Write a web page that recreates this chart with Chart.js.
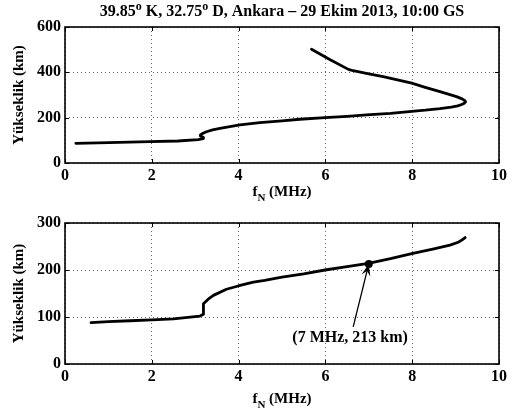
<!DOCTYPE html>
<html>
<head>
<meta charset="utf-8">
<script src="https://cdn.jsdelivr.net/npm/chart.js@4"></script>
<style>
html,body{margin:0;padding:0;background:#fff;}
#wrap{position:relative;width:515px;height:415px;}
#c1{position:absolute;left:0;top:0;}
#c2{position:absolute;left:0;top:207px;}
</style>
</head>
<body>
<div id="wrap">
<canvas id="c1" width="515" height="207"></canvas>
<canvas id="c2" width="515" height="208"></canvas>
</div>
<script>
// ---- data ----
const titleText = ["39.85", "o", " K, 32.75", "o", " D, Ankara \u2013 29 Ekim 2013, 10:00 GS"];
const yLabel = "Yükseklik (km)";
const xLabelMain = "f";
const xLabelSub = "N";
const xLabelRest = " (MHz)";

// top panel: full profile (bottomside + topside)
const topF = [0.25, 1.0, 1.96, 2.6, 3.07, 3.18, 3.19, 3.13, 3.12, 3.18, 3.26, 3.4, 3.57, 3.8, 4.03, 4.49, 5.0, 5.41, 5.99, 6.5, 6.95, 7.5, 7.99, 8.3, 8.64, 8.9, 9.05, 9.14, 9.2, 9.23, 9.21, 9.15, 9.02, 8.85, 8.64, 8.3, 7.99, 7.66, 7.33, 7.0, 6.64, 6.53, 6.1, 5.68];
const topH = [87, 90, 94, 97, 103, 108, 113, 119, 124, 131, 138, 146, 153, 161, 168, 178, 186, 193, 200, 206, 212, 219, 228, 233, 240, 247, 252, 258, 264, 270, 276, 283, 293, 303, 315, 334, 352, 367, 381, 393, 407, 413, 457, 502];

// bottom panel: bottomside profile only
const botF = [0.6, 1.0, 1.5, 2.0, 2.5, 3.11, 3.19, 3.19, 3.3, 3.42, 3.72, 3.99, 4.34, 4.6, 5.0, 5.5, 5.99, 6.5, 6.99, 7.5, 7.99, 8.5, 8.87, 9.06, 9.15, 9.22];
const botH = [88, 90, 92, 94, 96, 102, 106, 128, 138, 146, 159, 166, 174, 178, 185, 192, 200, 207, 214, 224, 235, 245, 253, 259, 264, 269];

const markF = 7, markH = 213;
const markLabel = "(7 MHz, 213 km)";
const arrowTailF = 6.64, arrowTailH = 79;
const labelF = 6.57, labelH = 55;

const xTicks = [0, 2, 4, 6, 8, 10];
const yTicksTop = [0, 200, 400, 600];
const yTicksBot = [0, 100, 200, 300];

// ---- helpers ----
const SERIF = '"Liberation Serif","Times New Roman",serif';
function bold(px){ return 'bold ' + px + 'px ' + SERIF; }

function drawRich(ctx, segs, cx, cy, size){
  const small = Math.round(size*0.72);
  let w = 0;
  segs.forEach(s => { ctx.font = bold(s[1]==='n'?size:small); w += ctx.measureText(s[0]).width; });
  let x = cx - w/2;
  ctx.textBaseline = 'alphabetic';
  ctx.textAlign = 'left';
  segs.forEach(s => {
    const f = s[1]==='n'?size:small;
    ctx.font = bold(f);
    let dy = 0;
    if (s[1]==='sup') dy = -size*0.4;
    if (s[1]==='sub') dy = size*0.32;
    ctx.fillText(s[0], x, cy + dy);
    x += ctx.measureText(s[0]).width;
  });
}

const framePlugin = {
  id: 'frame',
  afterDatasetsDraw(chart, args, opts){
    const ctx = chart.ctx, a = chart.chartArea;
    const xs = chart.scales.x, ys = chart.scales.y;
    ctx.save();
    ctx.fillStyle = '#000';
    ctx.strokeStyle = '#000';
    ctx.lineWidth = 1;
    ctx.beginPath();
    xTicks.forEach(v => {
      const px = Math.round(xs.getPixelForValue(v)) + 0.5;
      ctx.moveTo(px, a.bottom); ctx.lineTo(px, a.bottom - 4);
      ctx.moveTo(px, a.top); ctx.lineTo(px, a.top + 4);
    });
    opts.yTicks.forEach(v => {
      const py = Math.round(ys.getPixelForValue(v)) + 0.5;
      ctx.moveTo(a.left, py); ctx.lineTo(a.left + 4, py);
      ctx.moveTo(a.right, py); ctx.lineTo(a.right - 4, py);
    });
    ctx.stroke();
    ctx.lineWidth = 1.6;
    ctx.strokeRect(a.left, a.top, a.right - a.left, a.bottom - a.top);

    ctx.fillStyle = '#000';
    drawRich(ctx, [[xLabelMain,'n'],[xLabelSub,'sub'],[xLabelRest,'n']], (a.left + a.right)/2, 196, 15);
    ctx.save();
    ctx.translate(23, (a.top + a.bottom)/2);
    ctx.rotate(-Math.PI/2);
    ctx.font = bold(15);
    ctx.textAlign = 'center';
    ctx.textBaseline = 'alphabetic';
    ctx.fillText(yLabel, 0, 0);
    ctx.restore();

    if (opts.title){
      drawRich(ctx, titleText.map((t,i)=>[t, i%2===1?'sup':'n']), 282, 16, 16);
    }
    if (opts.annot){
      const mx = xs.getPixelForValue(markF), my = ys.getPixelForValue(markH);
      const tx = xs.getPixelForValue(arrowTailF), ty = ys.getPixelForValue(arrowTailH);
      ctx.lineWidth = 1.3;
      ctx.beginPath(); ctx.moveTo(tx, ty); ctx.lineTo(mx, my); ctx.stroke();
      const ang = Math.atan2(my - ty, mx - tx);
      const L = 12, W = 4.5;
      const bx = mx - L*Math.cos(ang), by = my - L*Math.sin(ang);
      ctx.beginPath();
      ctx.moveTo(mx, my);
      ctx.lineTo(bx + W*Math.sin(ang), by - W*Math.cos(ang));
      ctx.lineTo(mx - 0.6*L*Math.cos(ang), my - 0.6*L*Math.sin(ang));
      ctx.lineTo(bx - W*Math.sin(ang), by + W*Math.cos(ang));
      ctx.closePath(); ctx.fill();
      ctx.beginPath(); ctx.arc(mx, my, 4, 0, Math.PI*2); ctx.fill();
      ctx.font = bold(16);
      ctx.textAlign = 'center';
      ctx.textBaseline = 'middle';
      ctx.fillText(markLabel, xs.getPixelForValue(labelF), ys.getPixelForValue(labelH));
    }
    ctx.restore();
  }
};

function makeChart(id, F, H, yTicks, yMax, cfg){
  const pts = F.map((f,i)=>({x:f, y:H[i]}));
  return new Chart(document.getElementById(id), {
    type: 'scatter',
    data: { datasets: [{ data: pts, showLine: true, borderColor: '#000', borderWidth: 2.8,
      pointRadius: 0, tension: 0, fill: false, borderJoinStyle: 'round', borderCapStyle: 'round' }] },
    options: {
      responsive: false, animation: false, events: [],
      layout: { padding: { left: 0, right: 16, top: cfg.padTop, bottom: 0 } },
      plugins: { legend: { display: false }, tooltip: { enabled: false },
        frame: { yTicks: yTicks, title: cfg.title, annot: cfg.annot } },
      scales: {
        x: { type: 'linear', min: 0, max: 10,
          afterBuildTicks: s => { s.ticks = xTicks.map(v=>({value:v})); },
          afterFit: s => { s.height = cfg.xH; },
          border: { display: false, dash: [1, 3] },
          grid: { color: '#666', lineWidth: 1, drawTicks: false },
          ticks: { color: '#000', font: { family: SERIF, size: 16, weight: 'bold' }, padding: 3, maxRotation: 0 } },
        y: { type: 'linear', min: 0, max: yMax,
          afterBuildTicks: s => { s.ticks = yTicks.map(v=>({value:v})); },
          afterFit: s => { s.width = 65; },
          border: { display: false, dash: [1, 3] },
          grid: { color: '#666', lineWidth: 1, drawTicks: false },
          ticks: { color: '#000', font: { family: SERIF, size: 16, weight: 'bold' }, padding: 4 } }
      }
    },
    plugins: [framePlugin]
  });
}

makeChart('c1', topF, topH, yTicksTop, 600, { padTop: 27, xH: 207 - 163, title: true, annot: false });
makeChart('c2', botF, botH, yTicksBot, 300, { padTop: 16, xH: 208 - 157, title: false, annot: true });
</script>
</body>
</html>
